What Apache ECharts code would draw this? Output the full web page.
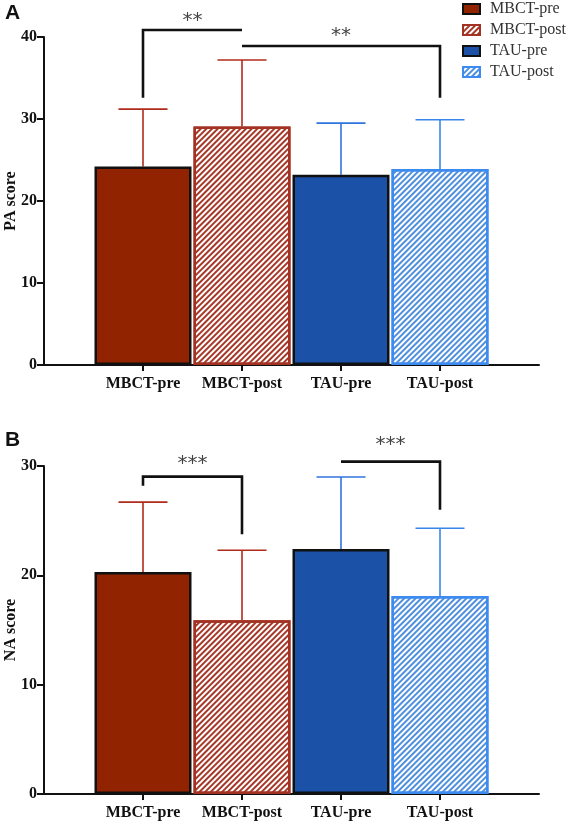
<!DOCTYPE html>
<html>
<head>
<meta charset="utf-8">
<script src="https://cdn.jsdelivr.net/npm/echarts@6/dist/echarts.min.js"></script>
<style>html,body{margin:0;padding:0;background:#fff;}#c{width:568px;height:823px;}</style>
</head>
<body>
<div id="c"></div>
<script>
// ---- data ----
const categories = ['MBCT-pre', 'MBCT-post', 'TAU-pre', 'TAU-post'];
const paMean  = [24.2, 29.1, 23.2, 23.9];
const paUpper = [31.2, 37.2, 29.5, 29.9];
const naMean  = [20.3, 15.9, 22.4, 18.1];
const naUpper = [26.7, 22.3, 29.0, 24.3];
const paTicks = [0, 10, 20, 30, 40];
const naTicks = [0, 10, 20, 30];
// significance brackets (category index, value)
const paBrackets = [
  [[1, 32.6], [1, 40.85], [2, 40.85]],
  [[2, 38.9], [4, 38.9], [4, 32.6]]
];
// stars: [from category, to category, value, text] -> centred between the two
const paStars = [[1, 2, 42.0, '**'], [2, 4, 40.1, '**']];
const naBrackets = [
  [[1, 28.2], [1, 29.03], [2, 29.03], [2, 23.76]],
  [[3, 30.4], [4, 30.4], [4, 26.0]]
];
const naStars = [[1, 2, 30.2, '***'], [3, 4, 31.9, '***']];

// ---- styles ----
const serif = 'Liberation Serif';
const barStyles = [
  { color: '#922300', borderColor: '#111', borderWidth: 2.5 },
  { color: '#ffffff', borderColor: '#a33222', borderWidth: 2.5,
    decal: { symbol: 'rect', symbolSize: 1, dashArrayX: [1, 0], dashArrayY: [1.5, 1.7], rotation: -Math.PI / 4, color: '#a53828' } },
  { color: '#1b51a7', borderColor: '#111', borderWidth: 2.5 },
  { color: '#ffffff', borderColor: '#3d8bf0', borderWidth: 2.5,
    decal: { symbol: 'rect', symbolSize: 1, dashArrayX: [1, 0], dashArrayY: [1.5, 1.7], rotation: -Math.PI / 4, color: '#4f8fdc' } }
];
const errColors = ['#b02a1a', '#b02a1a', '#2f74dc', '#3a86ea'];

const axisCats = [''].concat(categories, ['']);

function padded(v, i) {
  return axisCats.map((c, k) => (k === i + 1 ? v : '-'));
}

function yAxis(idx, ticks, name) {
  return {
    type: 'value', gridIndex: idx, min: ticks[0], max: ticks[ticks.length - 1], interval: ticks[1] - ticks[0],
    splitLine: { show: false },
    axisLine: { show: true, lineStyle: { color: '#111', width: 2 } },
    axisTick: { show: true, length: 7, lineStyle: { color: '#111', width: 2 } },
    axisLabel: { margin: 7, color: '#111', fontFamily: serif, fontWeight: 'bold', fontSize: 16 },
    name: name, nameLocation: 'middle', nameGap: 25, nameMoveOverlap: false,
    nameTextStyle: { color: '#111', fontFamily: serif, fontWeight: 'bold', fontSize: 16 }
  };
}
function xAxis(idx) {
  return {
    type: 'category', gridIndex: idx, data: axisCats, boundaryGap: false,
    axisLine: { lineStyle: { color: '#111', width: 2 } },
    axisTick: { length: 6, lineStyle: { color: '#111', width: 2 }, interval: (i) => i >= 1 && i <= 4 },
    axisLabel: { margin: 11, color: '#111', fontFamily: serif, fontWeight: 'bold', fontSize: 16, interval: 0 }
  };
}

function barSeries(idx, means) {
  return categories.map((c, i) => ({
    type: 'bar', name: c, xAxisIndex: idx, yAxisIndex: idx,
    barWidth: 97, barGap: '-100%', z: 3,
    data: padded(means[i], i), itemStyle: barStyles[i]
  }));
}
function errSeries(idx, means, uppers) {
  return {
    type: 'custom', xAxisIndex: idx, yAxisIndex: idx, z: 2, silent: true,
    data: categories.map((c, i) => [i + 1, means[i], uppers[i]]),
    renderItem: function (params, api) {
      const x = api.value(0), m = api.value(1), u = api.value(2);
      const p0 = api.coord([x, m]), p1 = api.coord([x, u]);
      const col = errColors[params.dataIndex];
      const hw = 24.5;
      return { type: 'group', children: [
        { type: 'line', shape: { x1: p0[0], y1: p0[1], x2: p1[0], y2: p1[1] }, style: { stroke: col, lineWidth: 1.6 } },
        { type: 'line', shape: { x1: p1[0] - hw, y1: p1[1], x2: p1[0] + hw, y2: p1[1] }, style: { stroke: col, lineWidth: 1.6 } }
      ] };
    }
  };
}
function bracketSeries(idx, brackets) {
  return {
    type: 'custom', xAxisIndex: idx, yAxisIndex: idx, z: 5, silent: true, clip: false,
    data: brackets.map(b => b[0]),
    renderItem: function (params, api) {
      const pts = brackets[params.dataIndex].map(p => api.coord(p));
      return { type: 'polyline', shape: { points: pts }, style: { stroke: '#111', lineWidth: 2.6, fill: null, lineJoin: 'miter' } };
    }
  };
}
function starSeries(idx, stars) {
  return {
    type: 'custom', xAxisIndex: idx, yAxisIndex: idx, z: 5, silent: true, clip: false,
    data: stars.map(s => [s[0], s[2]]),
    renderItem: function (params, api) {
      const s = stars[params.dataIndex];
      const a = api.coord([s[0], s[2]]), b = api.coord([s[1], s[2]]);
      return { type: 'text', x: (a[0] + b[0]) / 2, y: a[1], style: { text: s[3], fill: '#444', font: '20px "DejaVu Sans"', align: 'center', verticalAlign: 'middle' } };
    }
  };
}

const chart = echarts.init(document.getElementById('c'), null, { renderer: 'canvas' });
chart.setOption({
  animation: false,
  backgroundColor: '#fff',
  grid: [
    { left: 44, right: 29, top: 37, height: 328, outerBoundsMode: 'none', containLabel: false },
    { left: 44, right: 29, top: 466, height: 328, outerBoundsMode: 'none', containLabel: false }
  ],
  xAxis: [xAxis(0), xAxis(1)],
  yAxis: [yAxis(0, paTicks, 'PA score'), yAxis(1, naTicks, 'NA score')],
  legend: {
    data: categories, orient: 'vertical', left: 462, top: 1, padding: 0, icon: 'rect',
    itemWidth: 17, itemHeight: 10, itemGap: 5,
    textStyle: { fontFamily: serif, fontSize: 16, color: '#333', padding: [0, 0, 0, 5] }
  },
  graphic: [
    { type: 'text', left: 5, top: 3, style: { text: 'A', font: 'bold 21px "Liberation Sans"', fill: '#111' } },
    { type: 'text', left: 5, top: 430, style: { text: 'B', font: 'bold 21px "Liberation Sans"', fill: '#111' } }
  ],
  series: [].concat(
    barSeries(0, paMean), [errSeries(0, paMean, paUpper), bracketSeries(0, paBrackets), starSeries(0, paStars)],
    barSeries(1, naMean), [errSeries(1, naMean, naUpper), bracketSeries(1, naBrackets), starSeries(1, naStars)]
  )
});
</script>
</body>
</html>
